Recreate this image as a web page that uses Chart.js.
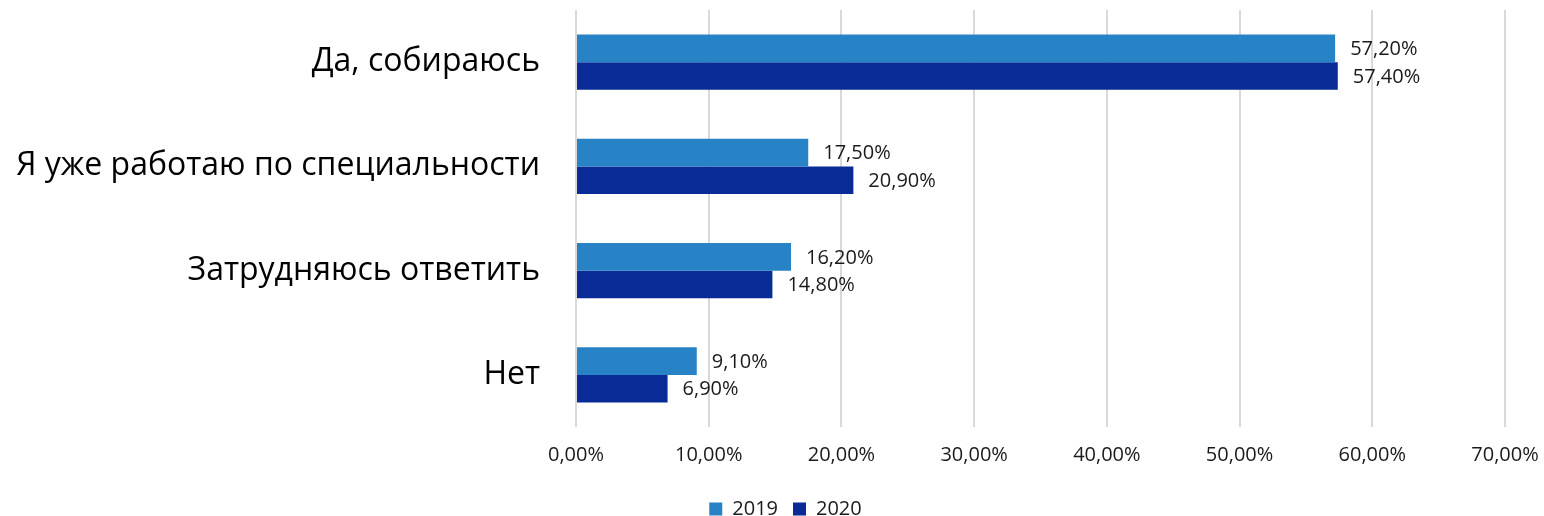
<!DOCTYPE html>
<html><head><meta charset="utf-8">
<script src="https://cdn.jsdelivr.net/npm/chart.js@4"></script>
<style>html,body{margin:0;padding:0;background:#fff;}#wrap{width:1544px;height:516px;}</style>
</head><body><div id="wrap"><canvas id="c" width="1544" height="516"></canvas></div>
<script>
const categories = ["Да, собираюсь", "Я уже работаю по специальности", "Затрудняюсь ответить", "Нет"];
const seriesNames = ["2019", "2020"];
const values2019 = [57.2, 17.5, 16.2, 9.1];
const values2020 = [57.4, 20.9, 14.8, 6.9];
const xTicks = [0, 10, 20, 30, 40, 50, 60, 70];

const fontFamily = "'Open Sans', Lato, sans-serif";
const fmt = v => v.toFixed(2).replace('.', ',') + '%';

const labelPlugin = {
  id: 'barLabels',
  afterDatasetsDraw(chart) {
    const ctx = chart.ctx;
    ctx.save();
    ctx.font = "20px " + fontFamily;
    ctx.fillStyle = '#1a1a1a';
    ctx.textAlign = 'left';
    ctx.textBaseline = 'middle';
    chart.data.datasets.forEach((ds, i) => {
      chart.getDatasetMeta(i).data.forEach((bar, j) => {
        ctx.fillText(fmt(ds.data[j]), bar.x + 15, bar.y + 1);
      });
    });
    ctx.restore();
  }
};

const legendShift = {
  id: 'legendShift',
  afterLayout(chart) {
    const lg = chart.legend;
    if (lg) { lg.left += 33; lg.right += 33; }
  }
};

new Chart(document.getElementById('c'), {
  type: 'bar',
  data: {
    labels: categories,
    datasets: [
      { label: seriesNames[0], data: values2019, backgroundColor: '#2783C6' },
      { label: seriesNames[1], data: values2020, backgroundColor: '#082B96' }
    ]
  },
  options: {
    indexAxis: 'y',
    responsive: false,
    animation: false,
    devicePixelRatio: 1,
    layout: { padding: { top: 10, right: 39, left: 0, bottom: -13 } },
    datasets: { bar: { categoryPercentage: 0.53, barPercentage: 1 } },
    scales: {
      x: {
        min: 0, max: 70,
        afterBuildTicks: s => { s.ticks = xTicks.map(v => ({ value: v })); },
        grid: { color: '#d9d9d9', lineWidth: 2, drawTicks: false },
        border: { display: false },
        ticks: {
          padding: 16,
          color: '#1a1a1a',
          font: { family: fontFamily, size: 20 },
          callback: v => fmt(v)
        },
        afterFit: s => { s.height = 57; s.paddingLeft = 0; s.paddingRight = 0; }
      },
      y: {
        grid: { display: false, drawTicks: false },
        border: { display: false },
        ticks: {
          padding: 36,
          color: '#000',
          font: { family: fontFamily, size: 32 }
        },
        afterFit: s => { s.width = 576; s.paddingTop = 0; s.paddingBottom = 0; }
      }
    },
    plugins: {
      legend: {
        position: 'bottom',
        labels: {
          boxWidth: 13, boxHeight: 13, padding: 15,
          color: '#1a1a1a',
          font: { family: fontFamily, size: 20 }
        }
      },
      tooltip: { enabled: false }
    }
  },
  plugins: [labelPlugin, legendShift]
});
</script></body></html>
